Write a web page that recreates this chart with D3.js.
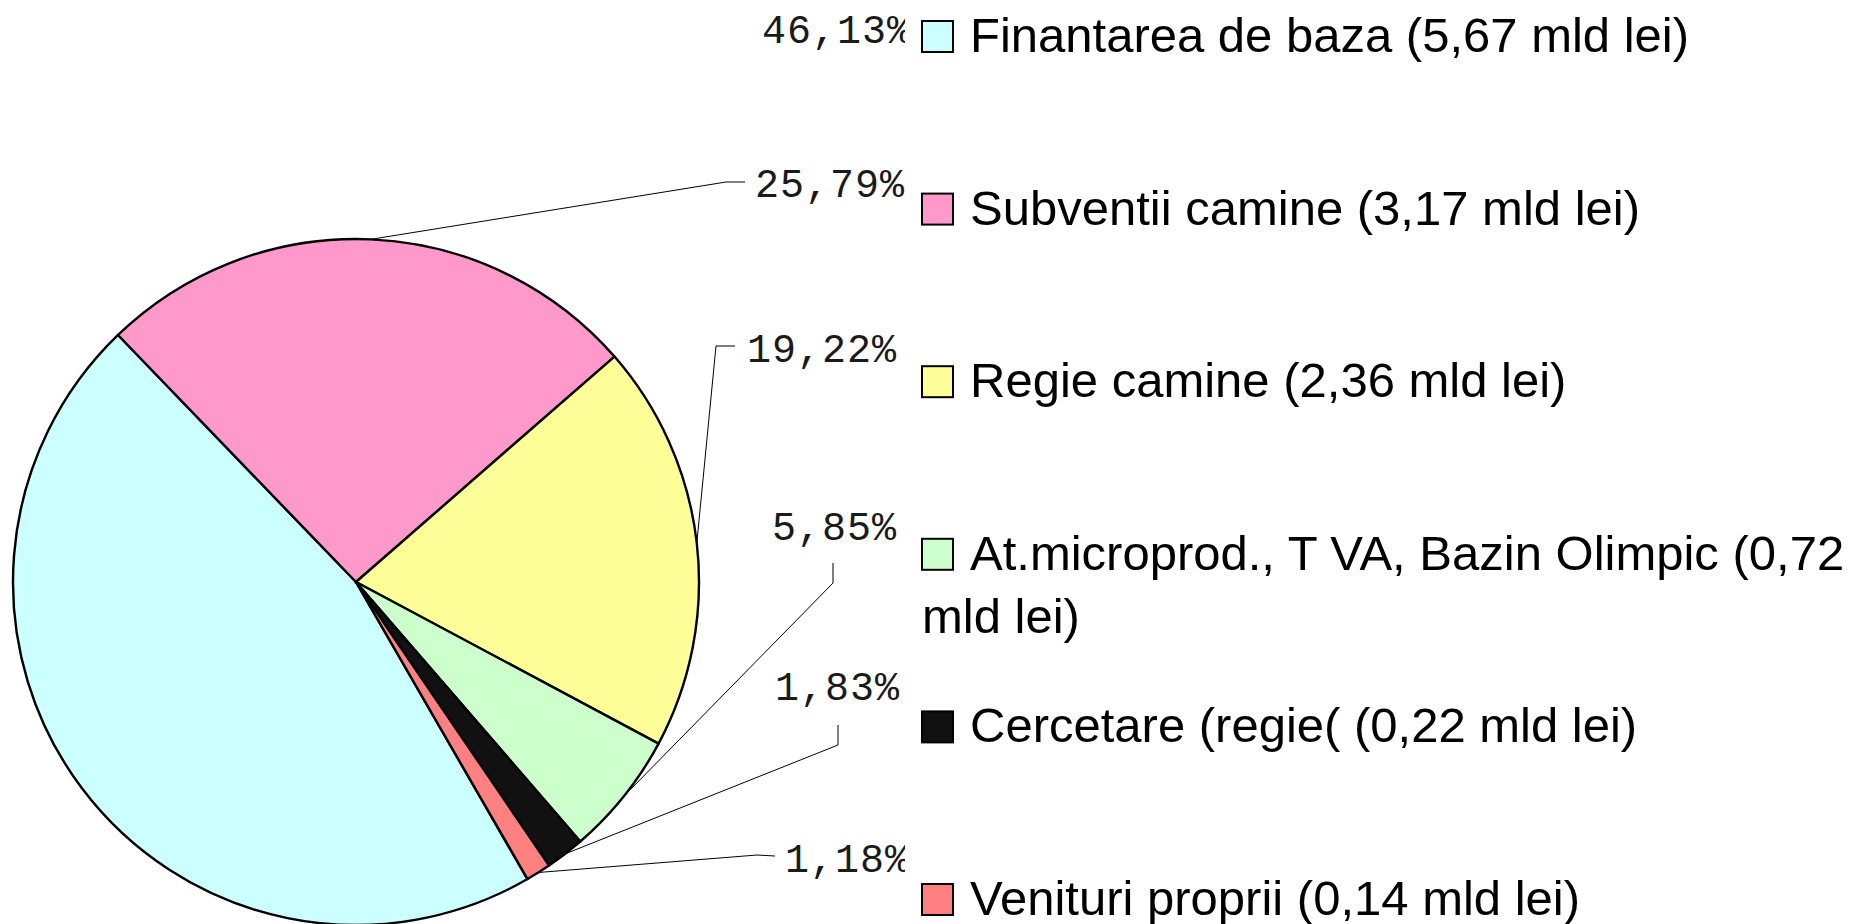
<!DOCTYPE html>
<html>
<head>
<meta charset="utf-8">
<script src="https://cdn.jsdelivr.net/npm/d3@7"></script>
<style>
  body { margin: 0; background: #fff; }
  .pct { font-family: 'Liberation Mono', 'DejaVu Sans Mono', monospace; font-size: 40px; letter-spacing: 1px; fill: #1a1a1a; }
  .leg { font-family: 'Liberation Sans', Arial, sans-serif; font-size: 49px; fill: #000; }
</style>
</head>
<body>
<div class="pie-chart"></div>
<script>
// data
const categories = [
  'Finantarea de baza',
  'Subventii camine',
  'Regie camine',
  'At.microprod., T VA, Bazin Olimpic',
  'Cercetare (regie(',
  'Venituri proprii',
];
const amounts = ['5,67', '3,17', '2,36', '0,72', '0,22', '0,14'];
const shares = [46.13, 25.79, 19.22, 5.85, 1.83, 1.18];
const colors = ['#CCFFFF', '#FF99CC', '#FFFF99', '#CCFFCC', '#111111', '#FF8080'];

// hand placed label spots (like the original chart)
const labelLayout = [
  { x: 762, y: 43 },
  { x: 755, y: 197, elbow: [726, 182], end: [745, 182] },
  { x: 747, y: 362, elbow: [716, 346], end: [735, 346] },
  { x: 772, y: 540, elbow: [833, 583], end: [833, 563] },
  { x: 775, y: 700, elbow: [838, 745], end: [838, 725] },
  { x: 785, y: 872, elbow: [757, 855], end: [775, 856] },
];

const width = 1866;
const height = 924;
const cx = 356, cy = 582, radius = 343;

const svg = d3.select('.pie-chart').append('svg')
  .attr('width', width)
  .attr('height', height);

const start = 150 * Math.PI / 180;
const pie = d3.pie()
  .sort(null)
  .startAngle(start)
  .endAngle(start + 2 * Math.PI);

const arc = d3.arc().innerRadius(0).outerRadius(radius);
const arcs = pie(shares);

const g = svg.append('g')
  .attr('transform', `translate(${cx},${cy})`);

g.selectAll('path')
  .data(arcs)
  .enter()
  .append('path')
  .attr('d', arc)
  .attr('fill', (d, i) => colors[i])
  .attr('stroke', '#000')
  .attr('stroke-width', 2.4)
  .attr('stroke-linejoin', 'round');

// leader lines
arcs.forEach((d, i) => {
  const l = labelLayout[i];
  if (!l.elbow) return;
  const mid = (d.startAngle + d.endAngle) / 2;
  const p0 = [cx + radius * Math.sin(mid), cy - radius * Math.cos(mid)];
  svg.append('path')
    .attr('d', d3.line()([p0, l.elbow, l.end]))
    .attr('fill', 'none')
    .attr('stroke', '#000')
    .attr('stroke-width', 1);
});

// percentage labels
svg.selectAll('text.pct')
  .data(shares)
  .enter()
  .append('text')
  .attr('class', 'pct')
  .attr('x', (d, i) => labelLayout[i].x)
  .attr('y', (d, i) => labelLayout[i].y)
  .text(d => d.toFixed(2).replace('.', ',') + '%');

// legend (white box sits over the labels)
const legend = svg.append('g');
legend.append('rect')
  .attr('x', 905)
  .attr('y', 0)
  .attr('width', width - 905)
  .attr('height', height)
  .attr('fill', '#fff');

const rowY = d3.scaleLinear().domain([0, 5]).range([20, 883]);
const maxW = width - 970 - 4;

categories.forEach((name, i) => {
  const y0 = rowY(i);
  legend.append('rect')
    .attr('x', 922)
    .attr('y', y0 + 1)
    .attr('width', 31)
    .attr('height', 31)
    .attr('fill', colors[i])
    .attr('stroke', '#000')
    .attr('stroke-width', 2);

  const words = `${name} (${amounts[i]} mld lei)`.split(' ');
  let line = [];
  let lineNo = 0;
  let t = legend.append('text')
    .attr('class', 'leg')
    .attr('x', 970)
    .attr('y', y0 + 32);
  words.forEach(w => {
    line.push(w);
    t.text(line.join(' '));
    if (t.node().getComputedTextLength() > maxW && line.length > 1) {
      line.pop();
      t.text(line.join(' '));
      line = [w];
      lineNo += 1;
      t = legend.append('text')
        .attr('class', 'leg')
        .attr('x', 922)
        .attr('y', y0 + 32 + lineNo * 63)
        .text(w);
    }
  });
});
</script>
</body>
</html>
